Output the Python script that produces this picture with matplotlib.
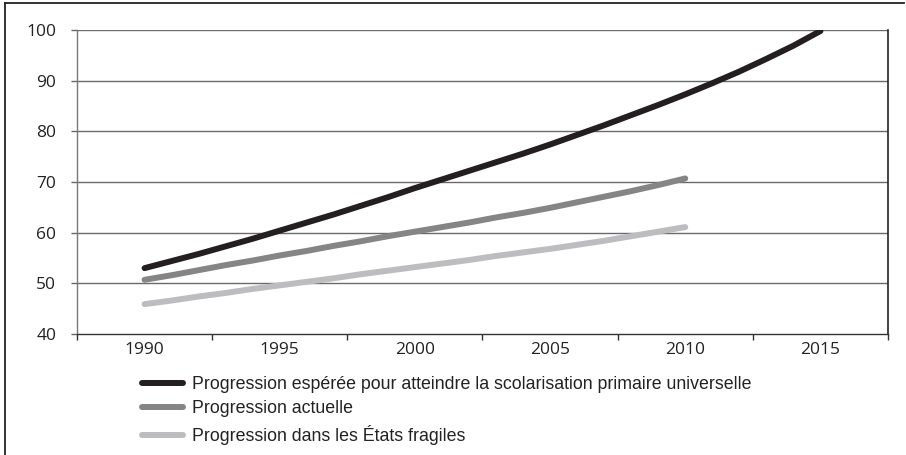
import matplotlib
matplotlib.use("Agg")
import matplotlib.pyplot as plt
from matplotlib.lines import Line2D

years_full = list(range(1990, 2016))
years_part = list(range(1990, 2011))

expected = [53.0, 54.4, 55.8, 57.3, 58.8, 60.4, 62.0, 63.6, 65.3, 67.0, 68.8,
            70.5, 72.2, 73.9, 75.6, 77.4, 79.3, 81.2, 83.2, 85.2, 87.3,
            89.5, 91.8, 94.3, 96.9, 99.8]
current = [50.7, 51.6, 52.6, 53.6, 54.5, 55.5, 56.4, 57.4, 58.3, 59.3, 60.2,
           61.1, 62.0, 63.0, 63.9, 64.9, 66.0, 67.1, 68.2, 69.4, 70.7]
fragile = [45.9, 46.6, 47.4, 48.1, 48.9, 49.6, 50.3, 51.0, 51.8, 52.5, 53.2,
           53.9, 54.6, 55.4, 56.1, 56.8, 57.6, 58.4, 59.3, 60.2, 61.1]

labels = ["Progression espérée pour atteindre la scolarisation primaire universelle",
          "Progression actuelle",
          "Progression dans les États fragiles"]
colors = ["#231f20", "#858585", "#bdbdbf"]
x_tick_years = [1990, 1995, 2000, 2005, 2010, 2015]
y_ticks = [40, 50, 60, 70, 80, 90, 100]

W, H = 906, 455
fig = plt.figure(figsize=(W / 100, H / 100), dpi=100)
ax = fig.add_axes([77 / W, 1 - 334 / H, (888 - 77) / W, (334 - 30) / H])

for xs, ys, c in [(years_full, expected, colors[0]),
                  (years_part, current, colors[1]),
                  (years_part, fragile, colors[2])]:
    ax.plot(xs, ys, color=c, lw=4.3, solid_capstyle="round", zorder=3)

ax.set_xlim(1987.5, 2017.5)
ax.set_ylim(40, 100)

# category boundary ticks
ax.set_xticks([1987.5 + 5 * i for i in range(7)])
ax.set_xticklabels([])
ax.tick_params(axis="x", which="major", direction="out", length=4.5, width=1,
               color="#333333")
ax.set_xticks(x_tick_years, minor=True)
ax.set_xticklabels([str(y) for y in x_tick_years], minor=True,
                   fontfamily="Open Sans", fontsize=12.5)
ax.tick_params(axis="x", which="minor", length=0, pad=6,
               labelcolor="#222222")

ax.set_yticks(y_ticks)
ax.set_yticklabels([str(v) for v in y_ticks], fontfamily="Open Sans",
                   fontsize=12.5)
ax.tick_params(axis="y", direction="out", length=4, width=1, color="#666666",
               pad=11, labelcolor="#222222")

for v in y_ticks[1:]:
    ax.axhline(v, color="#6a6a6a", lw=1, zorder=1)

ax.spines["top"].set_visible(False)
ax.spines["left"].set_color("#7a7a7a")
ax.spines["left"].set_linewidth(1)
ax.spines["bottom"].set_color("#333333")
ax.spines["bottom"].set_linewidth(1)
ax.spines["right"].set_color("#222222")
ax.spines["right"].set_linewidth(1.2)

handles = [Line2D([0], [0], color=c, lw=4.3, solid_capstyle="round") for c in colors]
fig.legend(handles, labels, loc="upper left",
           bbox_to_anchor=(142 / W, 1 - 376 / H), frameon=False,
           handlelength=2.3, handletextpad=0.5, labelspacing=0.42,
           prop={"family": "Liberation Sans", "size": 12.75},
           labelcolor="#222222", borderaxespad=0, borderpad=0)

# figure frame: top and left lines
fig.add_artist(Line2D([5 / W, 904 / W], [1 - 3 / H, 1 - 3 / H],
                      transform=fig.transFigure, color="#222222", lw=1.3))
fig.add_artist(Line2D([5 / W, 5 / W], [1 - 3 / H, 0],
                      transform=fig.transFigure, color="#222222", lw=1.3))

fig.savefig("out.png", dpi=100)
